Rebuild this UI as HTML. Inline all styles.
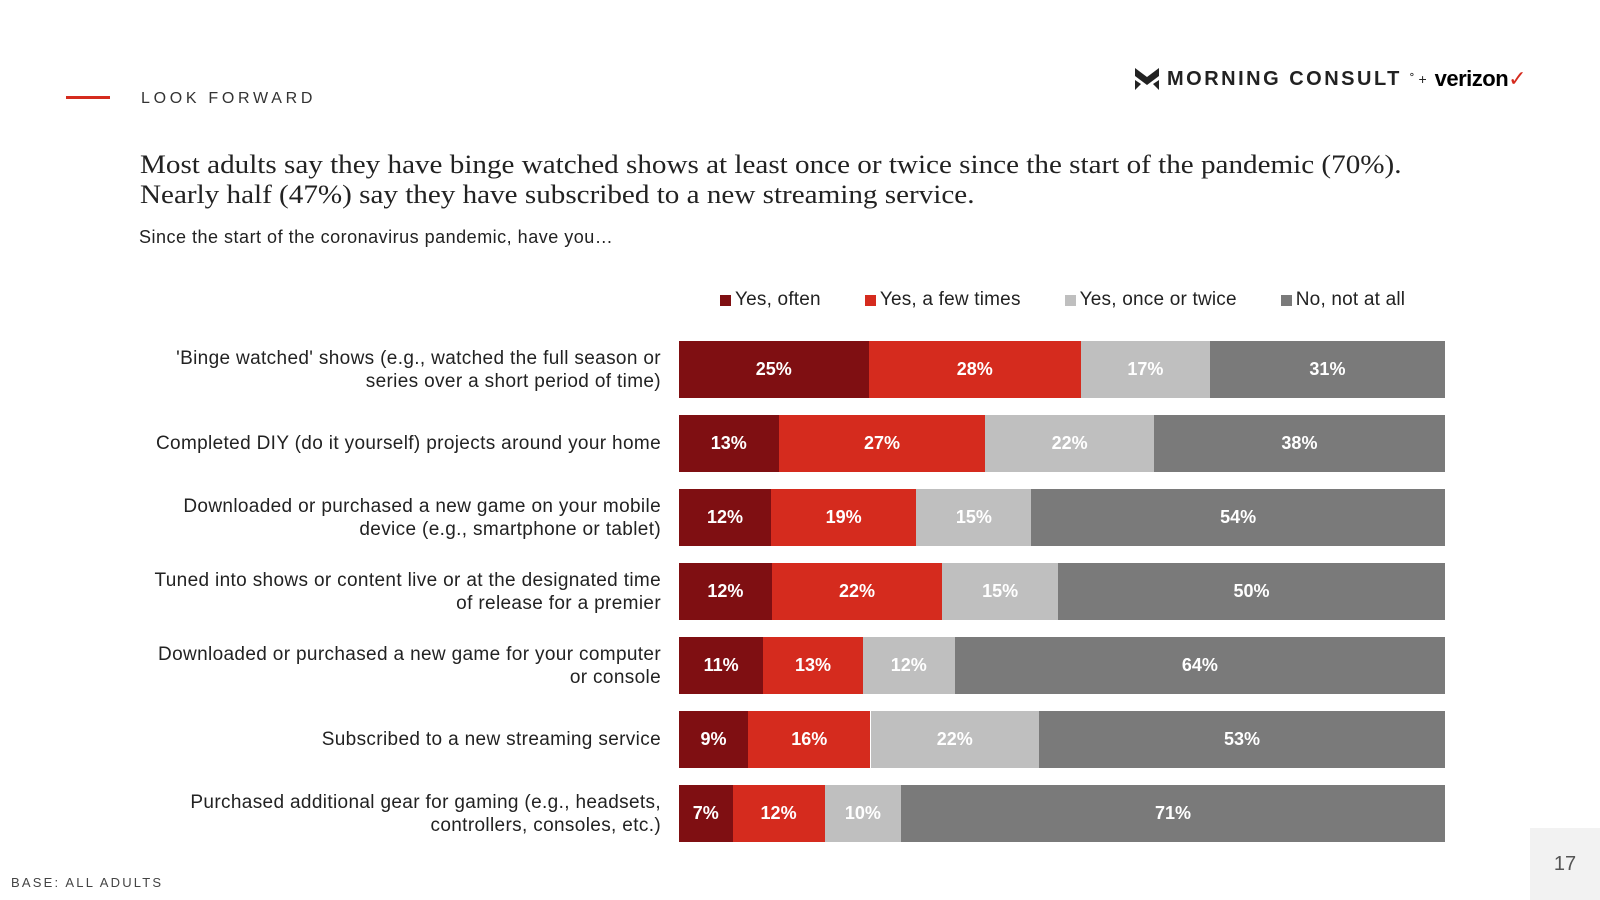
<!DOCTYPE html>
<html><head><meta charset="utf-8"><style>
body{margin:0;width:1600px;height:900px;background:#fff;font-family:"Liberation Sans",sans-serif;position:relative;overflow:hidden}
.abs{position:absolute}
</style></head><body>
<div class="abs" style="left:66px;top:96px;width:44px;height:3px;background:#d52b1e"></div>
<div class="abs" style="left:141px;top:90px;font-size:16px;letter-spacing:3.7px;color:#333">LOOK FORWARD</div>
<div class="abs" style="left:1135px;top:66px;display:flex;align-items:center;gap:8px">
<svg width="24" height="22" viewBox="0 0 24 22"><path d="M0 0 L12 9 L24 0 V8 L12 17 L0 8Z M0 12 L6 16 L0 22Z M24 12 L18 16 L24 22Z" fill="#222"/></svg>
<span style="font-weight:bold;font-size:20px;letter-spacing:2.5px;color:#222">MORNING CONSULT</span><span style="font-size:14px;color:#222">˚ +</span>
<span style="font-weight:bold;font-size:22px;color:#000;letter-spacing:-0.5px">verizon<span style="color:#d52b1e;font-weight:normal">✓</span></span></div>
<div class="abs" style="left:140px;top:150px;font-family:'Liberation Serif',serif;font-size:26px;line-height:30px;color:#222;transform:scaleX(1.12);transform-origin:left top;white-space:nowrap">Most adults say they have binge watched shows at least once or twice since the start of the pandemic (70%).<br>Nearly half (47%) say they have subscribed to a new streaming service.</div>
<div class="abs" style="left:139px;top:227px;font-size:18px;letter-spacing:0.5px;color:#222">Since the start of the coronavirus pandemic, have you…</div>
<div class="abs" style="left:11px;top:875px;font-size:13px;letter-spacing:2.2px;color:#444">BASE: ALL ADULTS</div>
<div class="abs" style="left:1530px;top:828px;width:70px;height:72px;background:#f2f2f2;color:#555;font-size:20px;display:flex;align-items:center;justify-content:center">17</div>
<div id="legend" class="abs" style="left:720px;top:289px;display:flex;font-size:19px;letter-spacing:0.2px;color:#222"></div>
<div id="chart"></div>
<script>
const categories=["'Binge watched' shows (e.g., watched the full season or<br>series over a short period of time)","Completed DIY (do it yourself) projects around your home","Downloaded or purchased a new game on your mobile<br>device (e.g., smartphone or tablet)","Tuned into shows or content live or at the designated time<br>of release for a premier","Downloaded or purchased a new game for your computer<br>or console","Subscribed to a new streaming service","Purchased additional gear for gaming (e.g., headsets,<br>controllers, consoles, etc.)"];
const seriesNames=["Yes, often","Yes, a few times","Yes, once or twice","No, not at all"];
const often=[25,13,12,12,11,9,7];
const fewTimes=[28,27,19,22,13,16,12];
const onceTwice=[17,22,15,15,12,22,10];
const notAtAll=[31,38,54,50,64,53,71];
const colors=["#7f0f12","#d52b1e","#bfbfbf","#7a7a7a"];
const series=[often,fewTimes,onceTwice,notAtAll];
const X0=679,W=766,Y0=341,STEP=74,H=57;
const xScale=(v,t)=>v/t*W;
const lg=document.getElementById('legend');
seriesNames.forEach((n,i)=>{const s=document.createElement('div');


s.style.cssText='display:flex;align-items:center;margin-right:44px';
s.innerHTML='<span style="width:11px;height:11px;background:'+colors[i]+';margin-right:4px;display:inline-block"></span>'+n;lg.appendChild(s);});
const ch=document.getElementById('chart');
categories.forEach((c,r)=>{const y=Y0+r*STEP;
const l=document.createElement('div');


l.className='abs';l.style.cssText='right:'+(1600-661)+'px;top:'+y+'px;height:'+H+'px;display:flex;align-items:center;text-align:right;font-size:19px;letter-spacing:0.35px;line-height:23px;color:#222;white-space:nowrap';
l.innerHTML='<div>'+c+'</div>';ch.appendChild(l);
const tot=series.reduce((a,s)=>a+s[r],0);let acc=0;
series.forEach((s,i)=>{const b=document.createElement('div');


b.className='abs';b.style.cssText='left:'+(X0+xScale(acc,tot))+'px;top:'+y+'px;width:'+xScale(s[r],tot)+'px;height:'+H+'px;background:'+colors[i]+';color:#fff;font-weight:bold;font-size:18px;display:flex;align-items:center;justify-content:center';
b.textContent=s[r]+'%';ch.appendChild(b);acc+=s[r];});});
</script>
</body></html>
